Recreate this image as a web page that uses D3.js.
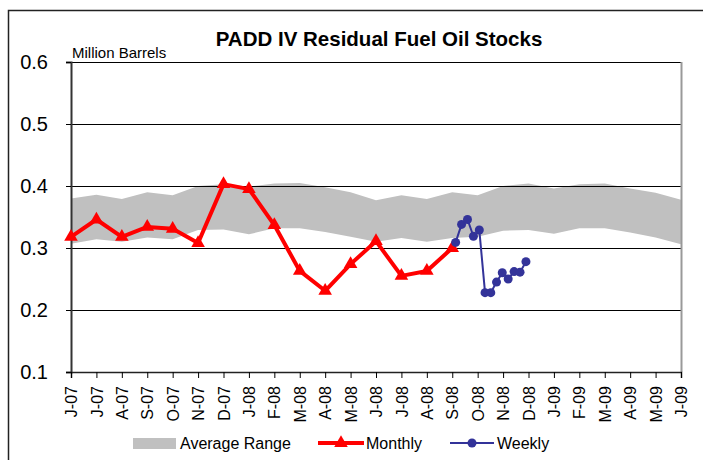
<!DOCTYPE html>
<html>
<head>
<meta charset="utf-8">
<script src="https://cdn.jsdelivr.net/npm/d3@7.9.0/dist/d3.min.js"></script>
<style>
  body { margin: 0; background: #fff; }
  svg { display: block; font-family: "Liberation Sans", Arial, sans-serif; }
</style>
</head>
<body>
<svg id="chart" width="703" height="460"></svg>
<script>
// month categories Jun-07 .. Jun-09
let months = ['J-07','J-07','A-07','S-07','O-07','N-07','D-07','J-08','F-08','M-08','A-08','M-08',
              'J-08','J-08','A-08','S-08','O-08','N-08','D-08','J-09','F-09','M-09','A-09','M-09','J-09'];
let rangeHigh = [0.380,0.386,0.379,0.390,0.385,0.400,0.403,0.399,0.404,0.405,0.398,0.390,
                 0.377,0.385,0.379,0.390,0.385,0.400,0.404,0.396,0.403,0.404,0.396,0.389,0.378];
let rangeLow  = [0.307,0.314,0.310,0.317,0.314,0.329,0.330,0.322,0.332,0.332,0.326,0.318,
                 0.310,0.316,0.310,0.316,0.318,0.328,0.329,0.323,0.332,0.332,0.325,0.317,0.306];
let monthly = [0.318,0.346,0.318,0.334,0.331,0.308,0.403,0.395,0.337,0.263,0.231,0.274,
               0.311,0.255,0.263,0.300];
let weeklyDates = ['2008-09-05','2008-09-12','2008-09-19','2008-09-26','2008-10-03','2008-10-10',
                   '2008-10-17','2008-10-24','2008-10-31','2008-11-07','2008-11-14','2008-11-21','2008-11-28'];
let weekly = [0.309,0.338,0.346,0.319,0.329,0.228,0.228,0.245,0.260,0.250,0.262,0.261,0.278];
let yTicks = [0.1,0.2,0.3,0.4,0.5,0.6];

let svg = d3.select('#chart');
let m = { left: 71, right: 681, top: 62, bottom: 372 };

// month index scale (category axis, points on ticks)
let x = d3.scaleLinear().domain([0, months.length - 1]).range([m.left, m.right]);
let y = d3.scaleLinear().domain([0.1, 0.6]).range([m.bottom, m.top]);

// weekly date -> fractional month index from Jun 2007
let parse = d3.timeParse('%Y-%m-%d');
function monthPos(s) {
  let d = parse(s);
  let mi = (d.getFullYear() - 2007) * 12 + d.getMonth() - 5;
  let days = new Date(d.getFullYear(), d.getMonth() + 1, 0).getDate();
  return mi + (d.getDate() - 1) / days;
}

// outer border
svg.append('rect').attr('x', 8.5).attr('y', 10.5).attr('width', 720).attr('height', 470)
  .attr('fill', 'none').attr('stroke', '#222').attr('stroke-width', 1.5);

// band
let area = d3.area()
  .x((d, i) => x(i))
  .y0((d, i) => y(rangeLow[i]))
  .y1((d) => y(d));
svg.append('path').datum(rangeHigh).attr('d', area).attr('fill', '#c0c0c0');

// gridlines
svg.append('g').selectAll('line').data(yTicks.slice(1)).join('line')
  .attr('x1', m.left).attr('x2', m.right)
  .attr('y1', (d) => Math.round(y(d)) + 0.5).attr('y2', (d) => Math.round(y(d)) + 0.5)
  .attr('stroke', '#000').attr('stroke-width', 1);

// right border
svg.append('line').attr('x1', m.right + 0.5).attr('x2', m.right + 0.5).attr('y1', m.top).attr('y2', m.bottom)
  .attr('stroke', '#999').attr('stroke-width', 2);

// y axis
let yAxis = d3.axisLeft(y).tickValues(yTicks).tickSize(5).tickFormat(d3.format('.1f'));
let gy = svg.append('g').attr('transform', `translate(${m.left},0)`).call(yAxis);
gy.select('.domain').attr('stroke', '#333').attr('stroke-width', 2);
gy.selectAll('.tick line').attr('stroke', '#000');
gy.selectAll('.tick text').attr('font-size', 20).attr('fill', '#000').attr('x', -23)
  .attr('font-family', '"Liberation Sans", Arial, sans-serif');

// x axis
let xAxis = d3.axisBottom(x).tickValues(d3.range(months.length)).tickSize(6)
  .tickFormat((i) => months[i]);
let gx = svg.append('g').attr('transform', `translate(0,${m.bottom})`).call(xAxis);
gx.select('.domain').attr('stroke', '#222').attr('stroke-width', 1.5);
gx.selectAll('.tick line').attr('stroke', '#000');
gx.selectAll('.tick text')
  .attr('font-size', 16).attr('fill', '#000')
  .attr('font-family', '"Liberation Sans", Arial, sans-serif')
  .attr('transform', 'rotate(-90)')
  .attr('text-anchor', 'end').attr('x', -14).attr('y', 0).attr('dy', '0.35em');

// titles
svg.append('text').attr('x', 379).attr('y', 46).attr('text-anchor', 'middle')
  .attr('font-size', 20.5).attr('font-weight', 'bold').text('PADD IV Residual Fuel Oil Stocks');
svg.append('text').attr('x', 72).attr('y', 58).attr('font-size', 15).text('Million Barrels');

// monthly series
let line = d3.line().x((d, i) => x(i)).y((d) => y(d));
svg.append('path').datum(monthly).attr('d', line)
  .attr('fill', 'none').attr('stroke', '#ff0000').attr('stroke-width', 4).attr('stroke-linejoin', 'round');
let tri = d3.symbol().type(d3.symbolTriangle).size(80);
svg.append('g').selectAll('path').data(monthly).join('path')
  .attr('d', tri).attr('fill', '#ff0000')
  .attr('transform', (d, i) => `translate(${x(i)},${y(d)})`);

// weekly series
let wpts = weekly.map((v, i) => [monthPos(weeklyDates[i]), v]);
svg.append('path').datum(wpts)
  .attr('d', d3.line().x((d) => x(d[0])).y((d) => y(d[1])))
  .attr('fill', 'none').attr('stroke', '#333399').attr('stroke-width', 2);
svg.append('g').selectAll('circle').data(wpts).join('circle')
  .attr('cx', (d) => x(d[0])).attr('cy', (d) => y(d[1])).attr('r', 4.5).attr('fill', '#333399');

// legend
let lg = svg.append('g').attr('font-size', 16);
lg.append('rect').attr('x', 133).attr('y', 438).attr('width', 43).attr('height', 11).attr('fill', '#c0c0c0');
lg.append('text').attr('x', 180).attr('y', 449).text('Average Range');
lg.append('line').attr('x1', 318).attr('x2', 364).attr('y1', 443).attr('y2', 443)
  .attr('stroke', '#ff0000').attr('stroke-width', 4);
lg.append('path').attr('d', tri).attr('fill', '#ff0000').attr('transform', 'translate(341,443)');
lg.append('text').attr('x', 366).attr('y', 449).text('Monthly');
lg.append('line').attr('x1', 450).attr('x2', 494).attr('y1', 443).attr('y2', 443)
  .attr('stroke', '#333399').attr('stroke-width', 2);
lg.append('circle').attr('cx', 472).attr('cy', 443).attr('r', 4.5).attr('fill', '#333399');
lg.append('text').attr('x', 497).attr('y', 449).text('Weekly');
</script>
</body>
</html>
